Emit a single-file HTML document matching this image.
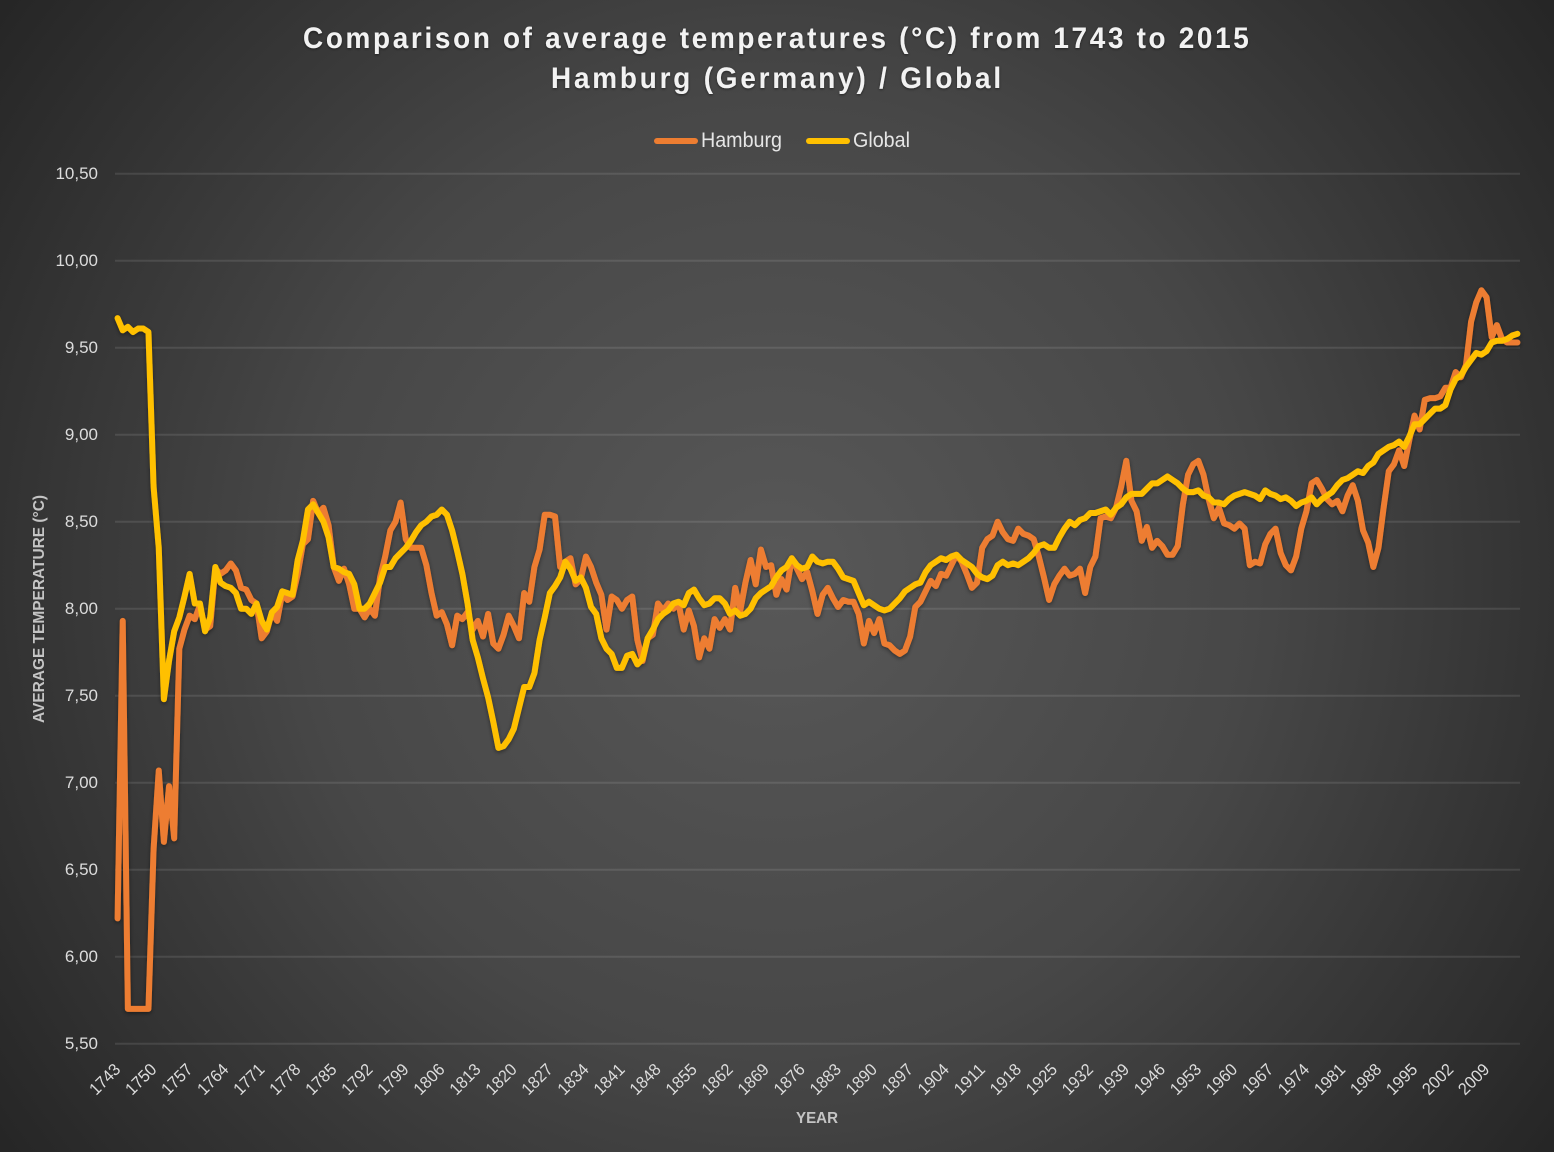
<!DOCTYPE html>
<html lang="en">
<head>
<meta charset="utf-8">
<title>Comparison of average temperatures</title>
<style>
html,body{margin:0;padding:0;width:1554px;height:1152px;overflow:hidden;background:#2b2b2b}
#chart{display:block;width:1554px;height:1152px;font-family:"Liberation Sans",sans-serif}
</style>
</head>
<body>
<svg id="chart" xmlns="http://www.w3.org/2000/svg" width="1554" height="1152" viewBox="0 0 1554 1152">
  <defs>
    <radialGradient id="bgGrad" gradientUnits="userSpaceOnUse" cx="777" cy="576" r="960">
      <stop offset="0" stop-color="#585858"/>
      <stop offset="0.5" stop-color="#474747"/>
      <stop offset="0.8" stop-color="#333333"/>
      <stop offset="1" stop-color="#262626"/>
    </radialGradient>
    <filter id="lineShadow" x="-5%" y="-5%" width="110%" height="110%">
      <feDropShadow dx="0" dy="1.5" stdDeviation="2" flood-color="#000" flood-opacity="0.45"/>
    </filter>
    <filter id="textShadow" x="-5%" y="-20%" width="110%" height="140%">
      <feDropShadow dx="0" dy="1" stdDeviation="1.2" flood-color="#000" flood-opacity="0.5"/>
    </filter>
  </defs>
  <rect x="0" y="0" width="1554" height="1152" fill="url(#bgGrad)"/>
  <g id="grid"></g>
  <g id="yAxis"></g>
  <g id="xAxis"></g>
  <g id="series" filter="url(#lineShadow)"></g>
  <g filter="url(#textShadow)" fill="#f2f2f2" font-weight="bold" font-size="30">
    <text transform="translate(303,48) scale(0.93,1)" textLength="1017" lengthAdjust="spacing">Comparison of average temperatures (°C) from 1743 to 2015</text>
    <text transform="translate(551,88) scale(0.93,1)" textLength="484" lengthAdjust="spacing">Hamburg (Germany) / Global</text>
  </g>
  <g font-size="21" fill="#e6e6e6">
    <line x1="657" y1="141" x2="695" y2="141" stroke="#ED7D31" stroke-width="6" stroke-linecap="round"/>
    <text x="701" y="147" textLength="81" lengthAdjust="spacingAndGlyphs">Hamburg</text>
    <line x1="809" y1="141" x2="847" y2="141" stroke="#FFC000" stroke-width="6" stroke-linecap="round"/>
    <text x="853" y="147" textLength="57" lengthAdjust="spacingAndGlyphs">Global</text>
  </g>
  <text transform="translate(44,609) rotate(-90)" text-anchor="middle" font-size="16" font-weight="bold" fill="#c4c4c4" textLength="228" lengthAdjust="spacingAndGlyphs">AVERAGE TEMPERATURE (°C)</text>
  <text x="817" y="1123" text-anchor="middle" font-size="16" font-weight="bold" fill="#c4c4c4" textLength="42" lengthAdjust="spacingAndGlyphs">YEAR</text>
</svg>
<script>
const firstYear = 1743;
const yTickValues = [5.5, 6, 6.5, 7, 7.5, 8, 8.5, 9, 9.5, 10, 10.5];
const yTickLabels = ["5,50", "6,00", "6,50", "7,00", "7,50", "8,00", "8,50", "9,00", "9,50", "10,00", "10,50"];
const xTickYears = [1743,1750,1757,1764,1771,1778,1785,1792,1799,1806,1813,1820,1827,1834,1841,1848,1855,1862,1869,1876,1883,1890,1897,1904,1911,1918,1925,1932,1939,1946,1953,1960,1967,1974,1981,1988,1995,2002,2009];
const hamburg = [
6.22,7.93,5.70,5.70,5.70,5.70,5.70,6.62,7.07,6.66,
6.98,6.68,7.77,7.88,7.96,7.94,8.02,7.88,7.90,8.23,
8.20,8.22,8.26,8.22,8.12,8.11,8.05,8.03,7.83,7.87,
7.98,7.93,8.09,8.05,8.07,8.20,8.37,8.40,8.62,8.55,
8.58,8.48,8.24,8.16,8.23,8.14,8.00,8.00,7.95,8.00,
7.96,8.18,8.30,8.45,8.50,8.61,8.40,8.35,8.35,8.35,
8.25,8.09,7.96,7.98,7.91,7.79,7.96,7.94,7.98,7.88,
7.93,7.84,7.97,7.80,7.77,7.85,7.96,7.90,7.83,8.09,
8.04,8.24,8.34,8.54,8.54,8.53,8.24,8.27,8.29,8.14,
8.17,8.30,8.24,8.15,8.08,7.88,8.07,8.05,8.00,8.05,
8.07,7.82,7.70,7.83,7.85,8.03,7.99,8.03,8.00,8.03,
7.88,7.99,7.90,7.72,7.83,7.77,7.94,7.89,7.94,7.88,
8.12,7.99,8.15,8.28,8.14,8.34,8.24,8.25,8.08,8.17,
8.11,8.29,8.23,8.17,8.21,8.10,7.97,8.08,8.12,8.06,
8.01,8.05,8.04,8.04,7.97,7.80,7.93,7.86,7.94,7.80,
7.79,7.76,7.74,7.76,7.84,8.01,8.04,8.10,8.16,8.13,
8.20,8.19,8.25,8.31,8.27,8.20,8.12,8.15,8.35,8.40,
8.42,8.50,8.44,8.40,8.39,8.46,8.43,8.42,8.40,8.30,
8.18,8.05,8.14,8.19,8.23,8.19,8.20,8.23,8.09,8.24,
8.30,8.52,8.53,8.52,8.58,8.70,8.85,8.62,8.56,8.39,
8.47,8.35,8.39,8.36,8.31,8.31,8.36,8.60,8.77,8.83,
8.85,8.77,8.63,8.52,8.58,8.49,8.48,8.46,8.49,8.46,
8.25,8.27,8.26,8.37,8.43,8.46,8.32,8.25,8.22,8.30,
8.46,8.56,8.72,8.74,8.69,8.63,8.60,8.62,8.56,8.65,
8.71,8.62,8.45,8.38,8.24,8.35,8.58,8.79,8.83,8.91,
8.82,8.97,9.11,9.03,9.20,9.21,9.21,9.22,9.27,9.27,
9.36,9.33,9.40,9.65,9.76,9.83,9.79,9.56,9.63,9.55,
9.53,9.53,9.53];
const globalTemps = [
9.67,9.60,9.62,9.59,9.61,9.61,9.59,8.70,8.35,7.48,
7.70,7.87,7.95,8.07,8.20,8.03,8.03,7.87,7.95,8.24,
8.15,8.13,8.12,8.09,8.00,8.00,7.97,8.03,7.93,7.88,
7.98,8.01,8.10,8.09,8.08,8.28,8.39,8.57,8.60,8.55,
8.50,8.41,8.24,8.23,8.21,8.20,8.14,8.00,8.00,8.03,
8.09,8.15,8.24,8.24,8.29,8.32,8.35,8.39,8.44,8.48,
8.50,8.53,8.54,8.57,8.54,8.45,8.33,8.20,8.03,7.82,
7.72,7.60,7.49,7.35,7.20,7.21,7.25,7.31,7.43,7.55,
7.55,7.63,7.82,7.95,8.09,8.13,8.18,8.27,8.23,8.16,
8.18,8.12,8.01,7.97,7.83,7.77,7.74,7.66,7.66,7.73,
7.74,7.68,7.71,7.83,7.88,7.94,7.97,7.99,8.03,8.04,
8.02,8.09,8.11,8.06,8.02,8.03,8.06,8.06,8.03,7.97,
7.99,7.96,7.97,8.00,8.06,8.09,8.11,8.13,8.18,8.22,
8.24,8.29,8.25,8.23,8.24,8.30,8.27,8.26,8.27,8.27,
8.23,8.18,8.17,8.16,8.09,8.02,8.04,8.02,8.00,7.99,
8.00,8.03,8.06,8.10,8.12,8.14,8.15,8.21,8.25,8.27,
8.29,8.28,8.30,8.31,8.28,8.26,8.24,8.20,8.18,8.17,
8.19,8.25,8.27,8.25,8.26,8.25,8.27,8.29,8.32,8.36,
8.37,8.35,8.35,8.41,8.46,8.50,8.48,8.51,8.52,8.55,
8.55,8.56,8.57,8.54,8.58,8.60,8.64,8.66,8.66,8.66,
8.69,8.72,8.72,8.74,8.76,8.74,8.72,8.69,8.67,8.67,
8.68,8.65,8.64,8.61,8.61,8.60,8.63,8.65,8.66,8.67,
8.66,8.65,8.63,8.68,8.66,8.65,8.63,8.64,8.62,8.59,
8.61,8.62,8.64,8.60,8.63,8.65,8.67,8.71,8.74,8.75,
8.77,8.79,8.78,8.82,8.84,8.89,8.91,8.93,8.94,8.96,
8.93,8.99,9.06,9.06,9.09,9.12,9.15,9.15,9.17,9.26,
9.32,9.34,9.39,9.43,9.47,9.46,9.48,9.53,9.54,9.54,
9.55,9.57,9.58];

const SVG_NS = "http://www.w3.org/2000/svg";
const plotLeft = 115, plotRight = 1520, plotTop = 173.7, plotBottom = 1043.7;
const yMin = 5.5, yMax = 10.5;
const pointCount = hamburg.length;
const bandWidth = (plotRight - plotLeft) / pointCount;

function xScale(index) {
  return plotLeft + bandWidth * (index + 0.5);
}
function yScale(value) {
  return plotBottom - (value - yMin) / (yMax - yMin) * (plotBottom - plotTop);
}

const gridGroup = document.getElementById("grid");
const yAxisGroup = document.getElementById("yAxis");
yTickValues.forEach(function (tick, i) {
  const y = yScale(tick);
  const gridLine = document.createElementNS(SVG_NS, "line");
  
  
  gridLine.setAttribute("x1", plotLeft);
  gridLine.setAttribute("x2", plotRight);
  gridLine.setAttribute("y1", y);
  gridLine.setAttribute("y2", y);
  gridLine.setAttribute("stroke", "#ffffff");
  gridLine.setAttribute("stroke-opacity", "0.1");
  gridLine.setAttribute("stroke-width", "2");
  gridGroup.appendChild(gridLine);

  const label = document.createElementNS(SVG_NS, "text");
  
  
  label.setAttribute("x", 98);
  label.setAttribute("y", y + 5.5);
  label.setAttribute("text-anchor", "end");
  label.setAttribute("font-size", "17");
  label.setAttribute("fill", "#dcdcdc");
  label.textContent = yTickLabels[i];
  yAxisGroup.appendChild(label);
});

const xAxisGroup = document.getElementById("xAxis");
xTickYears.forEach(function (year) {
  const cx = xScale(year - firstYear) - 13;
  const cy = 1079;
  const label = document.createElementNS(SVG_NS, "text");
  
  
  label.setAttribute("transform", "translate(" + cx + "," + cy + ") rotate(-45)");
  label.setAttribute("y", 6);
  label.setAttribute("text-anchor", "middle");
  label.setAttribute("font-size", "17");
  label.setAttribute("fill", "#dcdcdc");
  label.setAttribute("textLength", "36");
  label.setAttribute("lengthAdjust", "spacingAndGlyphs");
  label.textContent = String(year);
  xAxisGroup.appendChild(label);
});

function linePoints(values) {
  return values.map(function (v, i) {
    return xScale(i).toFixed(2) + "," + yScale(v).toFixed(2);
  }).join(" ");
}

const seriesGroup = document.getElementById("series");

const hamburgLine = document.createElementNS(SVG_NS, "polyline");


hamburgLine.setAttribute("points", linePoints(hamburg));
hamburgLine.setAttribute("fill", "none");
hamburgLine.setAttribute("stroke", "#ED7D31");
hamburgLine.setAttribute("stroke-width", "6");
hamburgLine.setAttribute("stroke-linejoin", "round");
hamburgLine.setAttribute("stroke-linecap", "round");
seriesGroup.appendChild(hamburgLine);

const globalLine = document.createElementNS(SVG_NS, "polyline");


globalLine.setAttribute("points", linePoints(globalTemps));
globalLine.setAttribute("fill", "none");
globalLine.setAttribute("stroke", "#FFC000");
globalLine.setAttribute("stroke-width", "6");
globalLine.setAttribute("stroke-linejoin", "round");
globalLine.setAttribute("stroke-linecap", "round");
seriesGroup.appendChild(globalLine);
</script>
</body>
</html>
